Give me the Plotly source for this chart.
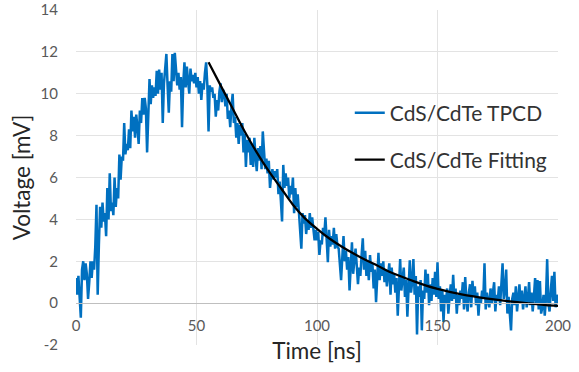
import plotly.graph_objects as go

# ---- data ----
tpcd_step_ns = 0.5
tpcd_voltage = [
    1.2, 0.4, 1.3, 0.5, -0.7, 1.6, 2.0, 1.1, 1.9, 1.4, 0.2, 1.0, 2.0, 1.2, 2.0, 1.6, 2.7, 4.7, 0.4, 2.8,
    4.6, 3.6, 4.8, 3.9, 4.3, 3.2, 5.5, 4.0, 6.2, 4.4, 4.8, 4.2, 6.0, 4.6, 5.5, 5.0, 7.1, 5.9, 7.0, 6.8,
    8.6, 7.1, 7.6, 7.3, 8.3, 7.4, 9.2, 8.2, 8.9, 7.9, 9.0, 8.4, 7.6, 9.2, 8.6, 9.8, 9.0, 9.8, 9.3, 7.2,
    9.6, 10.7, 9.5, 10.4, 9.8, 10.3, 9.9, 11.1, 10.0, 11.15, 10.2, 11.0, 8.6, 10.5, 11.2, 11.9, 10.4, 9.1, 10.6, 10.1,
    11.9, 10.6, 11.95, 10.9, 10.4, 11.0, 10.2, 10.8, 8.4, 10.5, 11.5, 10.3, 11.3, 10.6, 10.0, 11.2, 10.6, 10.9, 10.5, 11.0,
    10.3, 10.8, 10.0, 10.6, 9.7, 10.5, 10.2, 11.0, 11.5, 10.4, 8.2, 10.4, 10.1, 10.3, 9.8, 10.0, 8.9, 9.7, 9.2, 10.1,
    10.5, 9.6, 10.2, 10.0, 9.4, 10.0, 8.8, 9.2, 8.4, 9.4, 10.0, 8.6, 8.9, 7.9, 8.6, 7.6, 8.5, 8.0, 8.6, 7.2,
    8.1, 6.5, 7.8, 7.2, 7.9, 6.6, 7.6, 6.5, 7.9, 7.0, 6.3, 7.4, 6.8, 7.5, 6.4, 8.2, 7.1, 6.4, 6.9, 6.2,
    6.8, 5.5, 6.1, 6.4, 5.9, 6.3, 6.0, 6.4, 5.2, 5.8, 4.9, 3.9, 6.6, 5.5, 6.2, 5.6, 6.0, 5.0, 5.6, 5.2,
    6.0, 4.3, 5.5, 4.6, 5.2, 4.4, 3.6, 2.6, 4.3, 3.8, 4.2, 3.3, 3.9, 3.5, 4.3, 3.6, 4.1, 3.6, 3.0, 3.5,
    3.0, 3.4, 2.3, 3.0, 2.8, 3.6, 3.2, 4.1, 2.9, 1.96, 3.5, 2.7, 3.2, 2.8, 3.6, 2.6, 3.3, 2.7, 2.6, 1.9,
    1.1, 2.2, 3.2, 2.0, 2.5, 1.6, 2.2, 0.6, 1.7, 2.9, 1.4, 2.1, 2.6, 1.8, 0.9, 1.7, 1.3, 2.3, 3.1, 1.6,
    2.5, 1.3, 2.0, 1.1, 2.3, 1.5, 1.9, 0.7, 1.6, 0.05, 1.2, 2.4, 1.1, 1.9, 1.3, 2.0, 1.0, 1.6, 0.8, 1.5,
    1.9, 0.4, 1.7, 0.9, 1.4, 0.5, 1.2, -0.6, 1.0, 2.1, 0.6, 1.3, 1.7, 0.3, 1.1, -0.65, 0.7, 2.05, 0.5, 1.0,
    2.1, 0.4, 1.3, -1.5, 0.8, 0.3, 1.1, -1.3, 0.6, 0.2, 1.6, 0.5, 1.4, -0.1, 0.9, 0.1, 1.2, 0.4, 1.5, 0.3,
    1.95, 0.2, 0.8, -0.4, 0.6, -0.9, 0.4, 0.0, 0.7, -0.5, 0.3, 0.9, 0.1, 1.35, 0.2, 0.7, -0.5, 0.4, -0.1, 0.6,
    0.2, 1.0, -0.3, 1.25, 0.1, -0.4, 0.5, 0.9, -0.2, 1.07, 0.3, 0.8, -0.1, 0.5, -0.6, 0.3, 0.0, 0.6, 0.2, 1.9,
    -0.3, 0.5, 0.1, -0.2, 0.7, 0.0, 0.5, 1.0, -0.4, 0.4, 0.1, 0.8, -0.1, 1.3, 1.9, 0.2, 0.6, 1.6, -0.5, 0.3,
    -0.6, -1.3, 0.2, 0.5, -0.1, 0.8, -0.4, 0.3, 0.9, 0.0, 0.6, -0.3, 0.4, 0.8, -0.2, 0.2, 1.0, -0.1, 0.5, -0.4,
    0.3, 1.2, 0.0, 1.1, -0.3, 1.05, -0.5, -0.2, 0.4, -0.6, 0.2, 2.1, 0.0, -0.4, 0.6, 1.3, 0.1, 1.5, -0.2, 0.4,
    0.0,
]
tpcd_time = [i * tpcd_step_ns for i in range(len(tpcd_voltage))]

fit_time = [55, 60, 65, 70, 75, 80, 85, 90, 95, 100, 105, 110, 115, 120, 125,
            130, 135, 140, 145, 150, 155, 160, 165, 170, 175, 180, 185, 190, 195, 200]
fit_voltage = [11.5, 10.4, 9.3, 8.2, 7.2, 6.3, 5.5, 4.7, 4.05, 3.55, 3.1, 2.72, 2.38, 2.07, 1.8,
               1.5, 1.27, 1.05, 0.85, 0.68, 0.54, 0.42, 0.32, 0.23, 0.15, 0.08, 0.02, -0.04, -0.09, -0.13]

x_ticks = [0, 50, 100, 150, 200]
y_ticks = [-2, 0, 2, 4, 6, 8, 10, 12, 14]

FONT = "Lato, 'Open Sans', sans-serif"

fig = go.Figure()
fig.add_trace(go.Scatter(
    x=tpcd_time, y=tpcd_voltage, mode="lines", name="CdS/CdTe TPCD",
    line=dict(color="#0070C0", width=2.5), legend="legend"))
fig.add_trace(go.Scatter(
    x=fit_time, y=fit_voltage, mode="lines", name="CdS/CdTe Fitting",
    line=dict(color="#000000", width=2.25, shape="spline"), legend="legend2"))

fig.update_layout(
    width=579, height=372,
    margin=dict(l=76, r=21, t=10, b=27),
    paper_bgcolor="white", plot_bgcolor="white",
    font=dict(family=FONT, color="#595959"),
    showlegend=True,
    legend=dict(x=0.568, y=0.6925, xanchor="left", yanchor="middle",
                bgcolor="rgba(0,0,0,0)", font=dict(size=21, color="#333333", family=FONT)),
    legend2=dict(x=0.568, y=0.552, xanchor="left", yanchor="middle",
                 bgcolor="rgba(0,0,0,0)", font=dict(size=21, color="#333333", family=FONT)),
    xaxis=dict(
        range=[0, 200], tickvals=x_ticks, ticktext=[str(v) for v in x_ticks],
        anchor="free", position=0.125,
        showline=True, linecolor="#bfbfbf", linewidth=1,
        showgrid=True, gridcolor="#e3e3e3", gridwidth=1,
        zeroline=False, ticks="outside", ticklen=9, tickcolor="rgba(0,0,0,0)",
        tickfont=dict(size=15, color="#595959"),
        title=dict(text="Time [ns]", font=dict(size=22.5, color="#262626"), standoff=10),
        automargin=False,
    ),
    yaxis=dict(
        range=[-2, 14], tickvals=y_ticks, ticktext=[str(v) for v in y_ticks],
        showgrid=True, gridcolor="#e3e3e3", gridwidth=1,
        zeroline=True, zerolinecolor="#bfbfbf", zerolinewidth=1,
        showline=True, linecolor="white", linewidth=2, layer="below traces",
        ticks="outside", ticklen=13, tickcolor="rgba(0,0,0,0)",
        tickfont=dict(size=15, color="#595959"),
        title=dict(text="Voltage [mV]", font=dict(size=22.5, color="#262626"), standoff=4),
        automargin=False,
    ),
)

fig.write_html("out.html")
